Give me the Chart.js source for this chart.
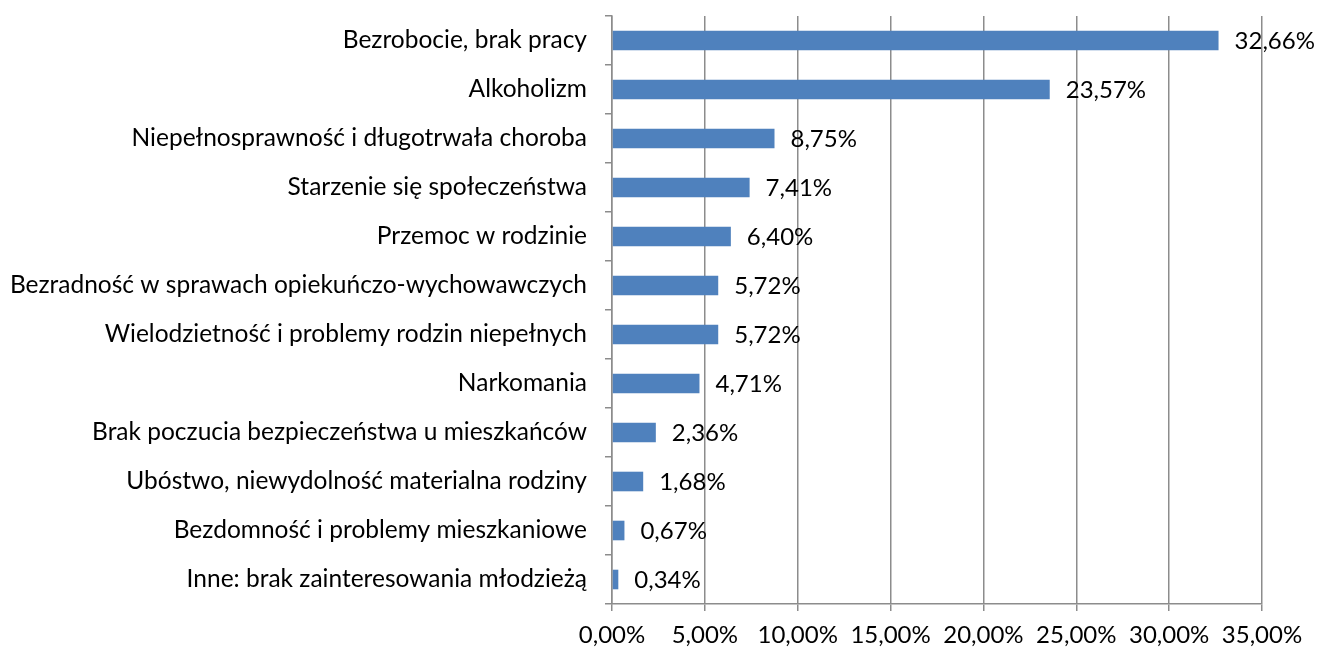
<!DOCTYPE html>
<html>
<head>
<meta charset="utf-8">
<script src="https://cdn.jsdelivr.net/npm/chart.js@4"></script>
<style>
html,body{margin:0;padding:0;background:#fff;}
#wrap{width:1319px;height:651px;position:relative;}
</style>
</head>
<body>
<div id="wrap"><canvas id="c"></canvas></div>
<script>
const categories = [
  "Bezrobocie, brak pracy",
  "Alkoholizm",
  "Niepełnosprawność i długotrwała choroba",
  "Starzenie się społeczeństwa",
  "Przemoc w rodzinie",
  "Bezradność w sprawach opiekuńczo-wychowawczych",
  "Wielodzietność i problemy rodzin niepełnych",
  "Narkomania",
  "Brak poczucia bezpieczeństwa u mieszkańców",
  "Ubóstwo, niewydolność materialna rodziny",
  "Bezdomność i problemy mieszkaniowe",
  "Inne: brak zainteresowania młodzieżą"
];
const values = [32.66, 23.57, 8.75, 7.41, 6.40, 5.72, 5.72, 4.71, 2.36, 1.68, 0.67, 0.34];
const xMin = 0, xMax = 35, xStep = 5;

const fmt = (v, d) => v.toFixed(d).replace('.', ',') + '%';
const FONT = "Lato, 'Open Sans', sans-serif";

const labelPlugin = {
  id: 'valLabels',
  afterDatasetsDraw(chart) {
    const ctx = chart.ctx;
    const meta = chart.getDatasetMeta(0);
    ctx.save();
    ctx.font = "24px " + FONT;
    ctx.fillStyle = '#000';
    ctx.textAlign = 'left';
    ctx.textBaseline = 'middle';
    meta.data.forEach((bar, i) => {
      ctx.fillText(fmt(values[i], 2), bar.x + 16, bar.y + 1);
    });
    ctx.restore();
  }
};

new Chart(document.getElementById('c'), {
  type: 'bar',
  data: {
    labels: categories,
    datasets: [{
      data: values,
      backgroundColor: '#4F81BD',
      borderWidth: 0,
      barPercentage: 0.8,
      categoryPercentage: 0.5
    }]
  },
  plugins: [labelPlugin],
  options: {
    indexAxis: 'y',
    responsive: true,
    maintainAspectRatio: false,
    animation: false,
    layout: { padding: { top: 16, right: 57, left: 0, bottom: 0 } },
    plugins: { legend: { display: false }, tooltip: { enabled: false } },
    scales: {
      x: {
        min: xMin, max: xMax,
        ticks: {
          stepSize: xStep,
          color: '#000',
          font: { family: FONT, size: 24 },
          padding: 10,
          maxRotation: 0,
          callback: v => fmt(v, 2)
        },
        grid: { color: '#8c8c8c', lineWidth: 1.5, tickLength: 7, drawTicks: true },
        border: { color: '#8c8c8c', width: 1.5 },
        afterFit(s) { s.height = 47; s.paddingLeft = 0; s.paddingRight = 0; }
      },
      y: {
        ticks: {
          color: '#000',
          font: { family: FONT, size: 24.5 },
          padding: 18,
          autoSkip: false
        },
        grid: { drawOnChartArea: false, color: '#8c8c8c', lineWidth: 1.5, tickLength: 7, offset: true },
        border: { color: '#8c8c8c', width: 1.5 },
        afterFit(s) { s.width = 612; s.paddingTop = 0; s.paddingBottom = 0; }
      }
    }
  }
});
</script>
</body>
</html>
